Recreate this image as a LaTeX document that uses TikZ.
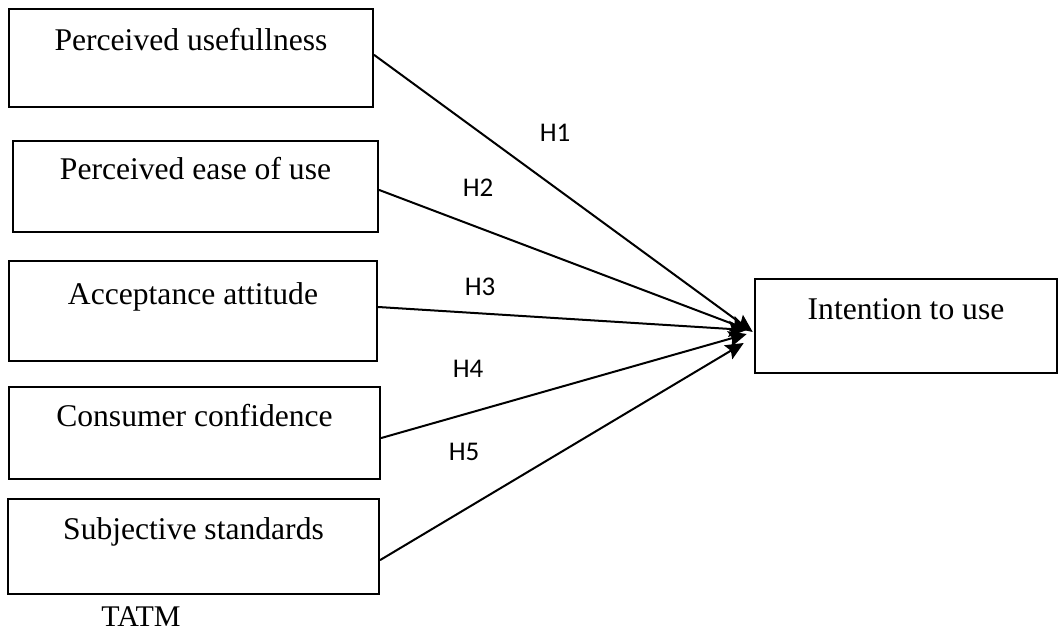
\documentclass[tikz,border=0pt]{standalone}
\usepackage{fontspec}
\setmainfont{Liberation Serif}
\newfontfamily\hfont{Carlito}
\usetikzlibrary{arrows.meta,positioning}
\tikzset{
  tatm box/.style={draw,line width=2.5pt,line join=miter,inner sep=0pt,
    text height=10pt,text depth=24pt,font=\fontsize{31.6}{36}\selectfont},
  tatm arrow/.style={line width=2pt,line cap=round,-{Stealth[length=18pt,width=16pt,inset=3pt]}},
  tatm label/.style={inner sep=0pt,font=\hfont\fontsize{27}{32}\selectfont},
  tatm note/.style={inner sep=0pt,font=\fontsize{30}{34}\selectfont}
}
\begin{document}
\begin{tikzpicture}[x=1pt,y=-1pt]
  \useasboundingbox (0,0) rectangle (1058,634);

  % constructs
  \node[tatm box,minimum width=364pt,minimum height=98pt] (pu) at (191,58) {Perceived usefullness};
  \node[tatm box,minimum width=365pt,minimum height=91pt] (peou) at (195.5,186.5) {Perceived ease of use};
  \node[tatm box,minimum width=368pt,minimum height=100pt] (aa) at (193,311) {Acceptance attitude};
  \node[tatm box,minimum width=371pt,minimum height=92pt] (cc) at (194.5,433) {Consumer confidence};
  \node[tatm box,minimum width=371pt,minimum height=95pt] (ss) at (193.5,546.5) {Subjective standards};
  \node[tatm box,minimum width=302pt,minimum height=94pt] (itu) at (906,326) {Intention to use};
  \node[tatm note] (tatm) at (141,617) {TATM};

  % hypotheses
  \draw[tatm arrow] ([yshift=3pt]pu.east) -- ([shift={(-1pt,-6pt)}]itu.west);
  \draw[tatm arrow] ([yshift=-3.5pt]peou.east) -- ([shift={(-5pt,-4pt)}]itu.west);
  \draw[tatm arrow] ([yshift=4pt]aa.east) -- ([shift={(-7pt,-4pt)}]itu.west);
  \draw[tatm arrow] ([yshift=-5pt]cc.east) -- ([shift={(-7pt,-8pt)}]itu.west);
  \draw[tatm arrow] ([yshift=-13.5pt]ss.east) -- ([shift={(-10pt,-17pt)}]itu.west);

  \node[tatm label] (h1) at (555,133) {H1};
  \node[tatm label] (h2) at (478,188) {H2};
  \node[tatm label] (h3) at (480,287) {H3};
  \node[tatm label] (h4) at (468,369) {H4};
  \node[tatm label] (h5) at (464,452) {H5};
\end{tikzpicture}
\end{document}
